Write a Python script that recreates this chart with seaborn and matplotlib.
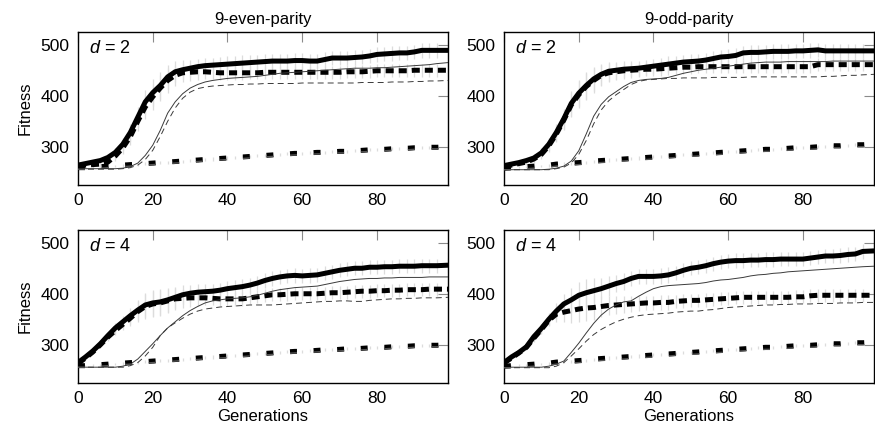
import numpy as np
import matplotlib
matplotlib.use("Agg")
import matplotlib.pyplot as plt
import seaborn as sns

# generations sampled every 2 steps, last one is 99
GENS = list(range(0, 98, 2)) + [99]

# 9-even-parity, d = 2
EVEN_D2_THICK = [264, 267, 270, 273, 279, 289, 305, 328, 358, 388, 406, 420, 437, 447, 451, 454, 457, 459, 460, 461,
                 462, 463, 464, 465, 466, 467, 468, 468, 468, 469, 469, 468, 468, 471, 474, 474, 474, 475, 476, 478,
                 481, 482, 483, 484, 484, 486, 489, 489, 489, 489]
EVEN_D2_THICK_DASH = [262, 264, 265, 266, 270, 282, 298, 320, 350, 378, 398, 415, 430, 440, 445, 446, 447, 447, 446, 445,
                      445, 445, 445, 445, 445, 446, 446, 446, 446, 446, 446, 446, 446, 446, 446, 446, 447, 447, 447, 448,
                      449, 449, 449, 449, 449, 450, 450, 450, 450, 450]
EVEN_D2_THIN = [257, 257, 257, 257, 257, 257, 258, 261, 268, 283, 303, 332, 366, 388, 404, 415, 422, 427, 430, 432,
                434, 435, 436, 437, 438, 440, 442, 444, 445, 446, 447, 448, 449, 450, 451, 452, 453, 454, 454, 454,
                455, 455, 456, 457, 458, 459, 460, 461, 463, 465]
EVEN_D2_THIN_DASH = [256, 256, 256, 256, 256, 256, 257, 259, 264, 275, 293, 320, 350, 376, 395, 407, 414, 417, 419, 420,
                     421, 422, 422, 423, 423, 424, 424, 424, 424, 424, 425, 425, 425, 425, 425, 425, 425, 425, 426, 426,
                     426, 426, 427, 427, 427, 428, 428, 429, 429, 430]
EVEN_D2_LOW = [259, 259, 260, 261, 262, 263, 264, 265, 266, 267, 268, 269, 270, 271, 272, 273, 274, 275, 276, 277,
               278, 279, 280, 281, 282, 283, 284, 285, 286, 287, 287, 288, 289, 289, 290, 291, 291, 292, 293, 294,
               294, 295, 296, 296, 297, 298, 298, 299, 299, 300]
EVEN_D2_LOW_THIN = [256, 256, 257, 258, 259, 260, 261, 262, 263, 264, 265, 266, 267, 268, 269, 270, 271, 272, 273, 274,
                    275, 276, 277, 278, 279, 280, 281, 282, 283, 284, 284, 285, 286, 286, 287, 288, 288, 289, 290, 291,
                    291, 292, 293, 293, 294, 295, 295, 296, 296, 297]

# 9-odd-parity, d = 2
ODD_D2_THICK = [263, 266, 269, 273, 278, 288, 305, 328, 355, 385, 405, 420, 433, 442, 448, 450, 452, 453, 454, 456,
                458, 460, 462, 464, 466, 467, 468, 470, 473, 476, 477, 479, 484, 485, 485, 486, 487, 487, 487, 488,
                488, 489, 490, 488, 488, 488, 488, 488, 488, 488]
ODD_D2_THICK_DASH = [262, 264, 267, 270, 276, 285, 302, 325, 352, 382, 402, 418, 430, 440, 445, 447, 449, 450, 451, 452,
                     452, 453, 454, 455, 456, 456, 457, 457, 457, 457, 457, 457, 457, 457, 457, 457, 457, 457, 457, 457,
                     457, 457, 461, 461, 461, 461, 461, 461, 461, 461]
ODD_D2_THIN = [255, 255, 255, 255, 255, 255, 256, 258, 262, 272, 292, 325, 360, 383, 398, 408, 418, 426, 430, 432,
               433, 434, 436, 440, 444, 447, 450, 452, 454, 456, 458, 460, 462, 464, 465, 466, 466, 466, 467, 467,
               467, 467, 467, 467, 468, 468, 468, 468, 468, 468]
ODD_D2_THIN_DASH = [255, 255, 255, 255, 255, 255, 255, 257, 260, 268, 285, 312, 345, 372, 390, 402, 412, 422, 428, 431,
                    432, 433, 434, 434, 435, 435, 435, 435, 436, 436, 436, 436, 436, 437, 437, 437, 437, 437, 437, 437,
                    437, 437, 437, 438, 438, 439, 440, 440, 441, 442]
ODD_D2_LOW = [258, 259, 260, 261, 262, 263, 264, 266, 267, 268, 269, 270, 272, 273, 274, 275, 276, 277, 278, 279,
              280, 281, 282, 283, 284, 285, 286, 287, 288, 289, 290, 291, 292, 293, 294, 295, 295, 296, 297, 298,
              299, 299, 300, 301, 302, 302, 303, 304, 304, 305]
ODD_D2_LOW_THIN = [255, 255, 256, 257, 258, 259, 260, 262, 263, 264, 265, 266, 268, 269, 270, 271, 272, 273, 274, 275,
                   276, 277, 278, 279, 280, 281, 282, 283, 284, 285, 286, 287, 288, 289, 290, 291, 291, 292, 293, 294,
                   295, 295, 296, 297, 298, 298, 299, 300, 300, 301]

# 9-even-parity, d = 4
EVEN_D4_THICK = [265, 276, 288, 302, 318, 333, 345, 357, 368, 378, 382, 384, 388, 393, 398, 401, 403, 404, 405, 407,
                 410, 412, 414, 417, 421, 426, 430, 433, 435, 436, 435, 436, 437, 440, 443, 446, 448, 450, 450, 452,
                 452, 453, 453, 454, 454, 454, 455, 455, 455, 456]
EVEN_D4_THICK_DASH = [263, 274, 286, 300, 315, 328, 340, 352, 365, 375, 380, 382, 386, 390, 391, 392, 392, 392, 391, 390,
                      390, 390, 390, 392, 394, 396, 398, 398, 399, 400, 400, 400, 400, 401, 402, 402, 403, 404, 405, 405,
                      406, 406, 407, 407, 408, 408, 408, 409, 409, 409]
EVEN_D4_THIN = [256, 256, 256, 256, 256, 256, 258, 262, 272, 287, 302, 318, 333, 345, 357, 367, 375, 382, 386, 388,
                390, 391, 392, 394, 397, 401, 405, 408, 410, 412, 413, 414, 415, 418, 421, 424, 426, 428, 429, 430,
                430, 431, 431, 432, 432, 432, 432, 433, 433, 433]
EVEN_D4_THIN_DASH = [256, 256, 256, 256, 256, 256, 256, 259, 265, 278, 295, 318, 333, 343, 352, 360, 366, 370, 372, 374,
                     375, 376, 377, 378, 378, 378, 378, 379, 380, 381, 382, 383, 384, 385, 385, 386, 386, 385, 385, 387,
                     388, 389, 390, 390, 391, 391, 392, 392, 392, 393]
EVEN_D4_LOW = [259, 259, 260, 261, 262, 263, 264, 265, 266, 267, 268, 269, 270, 271, 272, 273, 274, 275, 276, 277,
               278, 279, 280, 281, 282, 283, 284, 285, 286, 287, 287, 288, 289, 290, 290, 291, 292, 292, 293, 294,
               295, 295, 296, 296, 297, 298, 298, 299, 299, 300]
EVEN_D4_LOW_THIN = [256, 256, 257, 258, 259, 260, 261, 262, 263, 264, 265, 266, 267, 268, 269, 270, 271, 272, 273, 274,
                    275, 276, 277, 278, 279, 280, 281, 282, 283, 284, 284, 285, 286, 287, 287, 288, 289, 289, 290, 291,
                    292, 292, 293, 293, 294, 295, 295, 296, 296, 297]

# 9-odd-parity, d = 4
ODD_D4_THICK = [265, 276, 285, 296, 316, 332, 350, 366, 380, 388, 397, 402, 406, 410, 415, 420, 424, 430, 434, 434,
                434, 435, 437, 441, 446, 450, 452, 455, 459, 462, 464, 465, 465, 466, 466, 467, 467, 468, 468, 468,
                468, 470, 472, 474, 474, 475, 477, 478, 483, 484]
ODD_D4_THICK_DASH = [264, 274, 284, 295, 313, 330, 348, 360, 364, 367, 370, 372, 373, 375, 377, 378, 379, 380, 381, 382,
                     382, 383, 383, 385, 386, 387, 387, 388, 389, 390, 391, 392, 393, 393, 393, 393, 393, 393, 393, 394,
                     394, 396, 397, 397, 397, 397, 397, 397, 397, 397]
ODD_D4_THIN = [256, 256, 256, 256, 256, 256, 258, 262, 268, 285, 303, 323, 342, 358, 370, 378, 384, 386, 395, 403,
               410, 414, 416, 417, 418, 419, 420, 422, 425, 427, 428, 430, 432, 435, 437, 438, 440, 441, 443, 444,
               445, 446, 447, 448, 449, 450, 451, 452, 453, 454]
ODD_D4_THIN_DASH = [255, 255, 255, 255, 255, 255, 255, 258, 265, 278, 292, 307, 320, 330, 338, 345, 350, 354, 357, 359,
                    360, 361, 362, 364, 365, 366, 366, 368, 369, 371, 373, 374, 375, 376, 377, 378, 378, 379, 379, 380,
                    380, 380, 381, 381, 381, 382, 382, 382, 383, 383]
ODD_D4_LOW = [258, 259, 260, 261, 262, 263, 264, 266, 267, 268, 269, 270, 272, 273, 274, 275, 276, 277, 278, 279,
              280, 281, 282, 283, 284, 285, 286, 287, 288, 289, 290, 291, 292, 293, 294, 295, 295, 296, 297, 298,
              299, 299, 300, 301, 302, 302, 303, 304, 304, 305]
ODD_D4_LOW_THIN = [255, 255, 256, 257, 258, 259, 260, 262, 263, 264, 265, 266, 268, 269, 270, 271, 272, 273, 274, 275,
                   276, 277, 278, 279, 280, 281, 282, 283, 284, 285, 286, 287, 288, 289, 290, 291, 291, 292, 293, 294,
                   295, 295, 296, 297, 298, 298, 299, 300, 300, 301]

# error bar half widths (shared by the panels)
ERR_THICK = [2, 3, 4, 5, 7, 9, 12, 16, 20, 24, 26, 26, 24, 21, 19, 17, 16, 15, 15, 15,
             15, 15, 15, 14, 14, 14, 14, 14, 14, 14, 14, 14, 14, 14, 14, 14, 14, 14, 14, 14,
             14, 14, 14, 14, 14, 14, 14, 14, 14, 14]
ERR_THICK_DASH = [2, 3, 4, 5, 7, 9, 12, 16, 20, 24, 26, 26, 24, 21, 19, 17, 16, 15, 14, 14,
                  14, 14, 14, 13, 13, 13, 13, 13, 13, 13, 13, 13, 13, 13, 13, 13, 13, 13, 13, 13,
                  13, 13, 13, 13, 13, 13, 13, 13, 13, 13]
ERR_LOW = [1, 1, 2, 2, 2, 2, 3, 3, 3, 3, 3, 3, 3, 3, 3, 3, 3, 3, 3, 3,
           3, 3, 3, 3, 3, 3, 3, 3, 3, 3, 3, 3, 3, 3, 3, 3, 3, 3, 3, 3,
           3, 3, 3, 3, 3, 3, 3, 3, 3, 3]

TITLES = ["9-even-parity", "9-odd-parity"]
DEPTHS = [2, 4]
PANELS = [
    [(EVEN_D2_THICK, EVEN_D2_THICK_DASH, EVEN_D2_THIN, EVEN_D2_THIN_DASH, EVEN_D2_LOW, EVEN_D2_LOW_THIN),
     (ODD_D2_THICK, ODD_D2_THICK_DASH, ODD_D2_THIN, ODD_D2_THIN_DASH, ODD_D2_LOW, ODD_D2_LOW_THIN)],
    [(EVEN_D4_THICK, EVEN_D4_THICK_DASH, EVEN_D4_THIN, EVEN_D4_THIN_DASH, EVEN_D4_LOW, EVEN_D4_LOW_THIN),
     (ODD_D4_THICK, ODD_D4_THICK_DASH, ODD_D4_THIN, ODD_D4_THIN_DASH, ODD_D4_LOW, ODD_D4_LOW_THIN)],
]

sns.set_style("white")
plt.rcParams["font.family"] = ["Liberation Sans", "DejaVu Sans"]
plt.rcParams["mathtext.fontset"] = "custom"
plt.rcParams["mathtext.rm"] = "Liberation Sans"
plt.rcParams["mathtext.it"] = "Liberation Sans:italic"
plt.rcParams["lines.scale_dashes"] = False
plt.rcParams["text.color"] = "black"
plt.rcParams["axes.labelcolor"] = "black"
plt.rcParams["xtick.labelcolor"] = "black"
plt.rcParams["ytick.labelcolor"] = "black"

fig = plt.figure(figsize=(8.75, 4.3), dpi=100)
lefts = [78 / 875, 504 / 875]
bottoms = [1 - 185 / 430, 1 - 383 / 430]
w, h = 370 / 875, 153 / 430

errs = [ERR_THICK, ERR_THICK_DASH, None, None, ERR_LOW, None]
styles = [
    dict(color="black", lw=3.6, linestyle="-"),
    dict(color="black", lw=3.6, linestyle=(0, (5.8, 3.6))),
    dict(color="#3a3a3a", lw=0.7, linestyle="-"),
    dict(color="#3a3a3a", lw=0.7, linestyle=(0, (4.3, 2.9))),
    dict(color="black", lw=3.6, linestyle=(0, (5.0, 12.0))),
    dict(color="#555555", lw=1.0, linestyle=(0, (5.0, 12.0))),
]

for r in range(2):
    for c in range(2):
        ax = fig.add_axes([lefts[c], bottoms[r], w, h])
        series = PANELS[r][c]
        # light grey error bars behind the lines
        for vals, err in zip(series, errs):
            if err is None:
                continue
            v = np.array(vals)
            e = np.array(err)
            ax.vlines(GENS, v - e, v + e, color="#dcdcdc", lw=0.9, zorder=1)
        for vals, st in zip(series, styles):
            sns.lineplot(x=GENS, y=vals, ax=ax, errorbar=None, sort=False, zorder=3, **st)
        ax.set_xlim(0, 99)
        ax.set_ylim(225, 525)
        ax.set_xticks([0, 20, 40, 60, 80])
        ax.set_yticks([300, 400, 500])
        ax.tick_params(direction="in", length=7, width=0.8, color="#8a8a8a", labelcolor="black",
                       top=True, right=True, labelsize=12.5, pad=6)
        for sp in ax.spines.values():
            sp.set_color("black")
            sp.set_linewidth(1.0)
        ax.text(0.03, 0.95, f"$d$ = {DEPTHS[r]}", transform=ax.transAxes,
                ha="left", va="top", fontsize=13, color="black")
        if r == 0:
            ax.set_title(TITLES[c], fontsize=12, pad=6, color="black")
        else:
            ax.set_xlabel("Generations", fontsize=12, labelpad=2)
        if c == 0:
            ax.set_ylabel("Fitness", fontsize=12, labelpad=6)

fig.savefig("out.png", dpi=100)
